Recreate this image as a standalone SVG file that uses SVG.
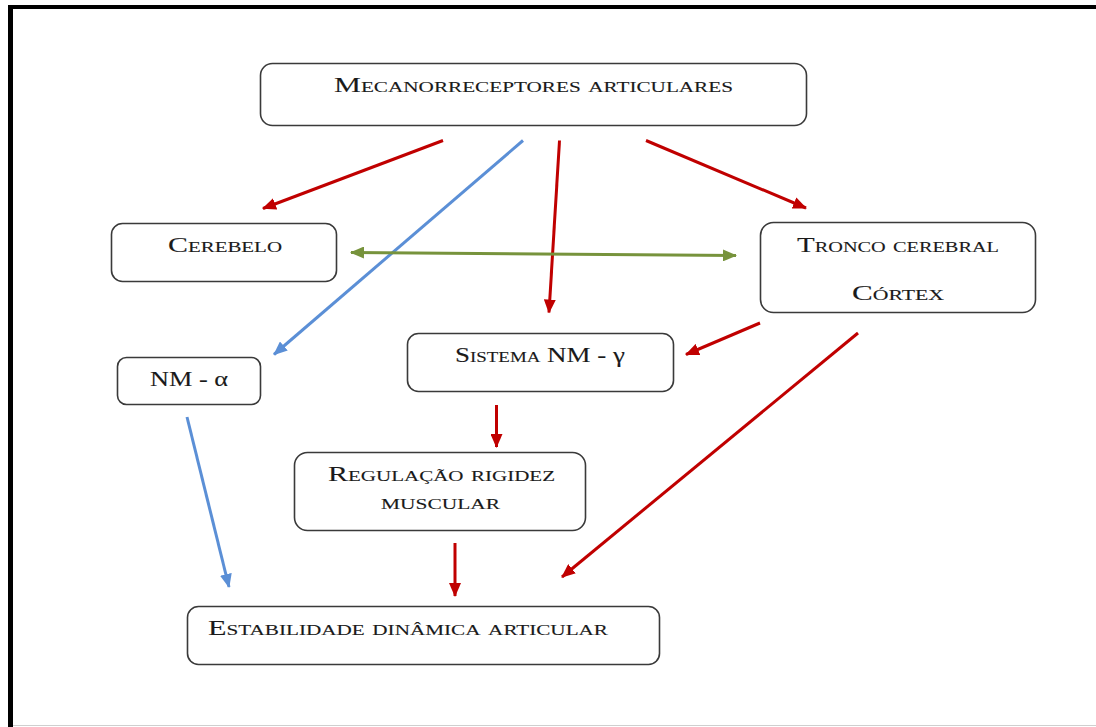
<svg xmlns="http://www.w3.org/2000/svg" width="1096" height="727" viewBox="0 0 1096 727">
<style>
.box{fill:#fff;stroke:#3a3a3a;stroke-width:1.6}
.t{font-family:"Liberation Serif","Times New Roman",serif;font-size:20px;font-variant:small-caps;fill:#1a1a1a;stroke:#1a1a1a;stroke-width:0.1}
.n{font-family:"Liberation Serif","Times New Roman",serif;font-size:20px;fill:#1a1a1a;stroke:#1a1a1a;stroke-width:0.1}
.g{font-variant:normal}
.red{stroke:#C00000;stroke-width:3;fill:none;marker-end:url(#ar)}
.blue{stroke:#5B8FD6;stroke-width:3;fill:none;marker-end:url(#ab)}
.green{stroke:#77933C;stroke-width:3;fill:none;marker-end:url(#ag);marker-start:url(#ag)}
</style>
<defs>
<marker id="ar" viewBox="0 0 14 12" refX="13" refY="6" markerWidth="14" markerHeight="12" markerUnits="userSpaceOnUse" orient="auto-start-reverse"><path d="M0,0 L14,6 L0,12 z" fill="#C00000"/></marker>
<marker id="ab" viewBox="0 0 14 12" refX="13" refY="6" markerWidth="14" markerHeight="12" markerUnits="userSpaceOnUse" orient="auto-start-reverse"><path d="M0,0 L14,6 L0,12 z" fill="#5B8FD6"/></marker>
<marker id="ag" viewBox="0 0 14 12" refX="13" refY="6" markerWidth="14" markerHeight="12" markerUnits="userSpaceOnUse" orient="auto-start-reverse"><path d="M0,0 L14,6 L0,12 z" fill="#77933C"/></marker>
</defs>
<rect x="0" y="0" width="1096" height="727" fill="#fff"/>
<g id="frame">
<rect x="8" y="5" width="1088" height="4" fill="#000"/>
<rect x="8" y="5" width="5" height="722" fill="#000"/>
<line x1="13" y1="725.5" x2="1096" y2="725.5" stroke="#cfcfcf" stroke-width="1"/>
</g>
<g id="connectors">
<line class="red" x1="443" y1="140.5" x2="263" y2="208.5"/>
<line class="blue" x1="523" y1="140.5" x2="274" y2="354.5"/>
<line class="red" x1="559.5" y1="140.5" x2="549" y2="312.5"/>
<line class="red" x1="646" y1="140.5" x2="806" y2="208"/>
<line class="green" x1="351" y1="252.5" x2="736" y2="255.5"/>
<line class="red" x1="760" y1="323" x2="686" y2="354.5"/>
<line class="red" x1="496.5" y1="405" x2="496.5" y2="447"/>
<line class="blue" x1="187" y1="417" x2="229" y2="587"/>
<line class="red" x1="455" y1="543" x2="455" y2="596"/>
<line class="red" x1="858" y1="333" x2="562" y2="577"/>
</g>
<g id="mecanorreceptores">
<rect class="box" x="260.5" y="63.5" width="546" height="62" rx="12"/>
<text class="t" x="334" y="92" textLength="399" lengthAdjust="spacingAndGlyphs">Mecanorreceptores articulares</text>
</g>
<g id="cerebelo">
<rect class="box" x="111.5" y="223.5" width="225" height="58" rx="11"/>
<text class="t" x="168" y="252" textLength="114" lengthAdjust="spacingAndGlyphs">Cerebelo</text>
</g>
<g id="tronco">
<rect class="box" x="760.5" y="222.5" width="275" height="90" rx="13"/>
<text class="t" x="797" y="252" textLength="202" lengthAdjust="spacingAndGlyphs">Tronco cerebral</text>
<text class="t" x="852" y="300" textLength="92" lengthAdjust="spacingAndGlyphs">Córtex</text>
</g>
<g id="nm-alpha">
<rect class="box" x="117.5" y="357.5" width="143" height="47" rx="9"/>
<text class="n" x="150" y="386" textLength="78" lengthAdjust="spacingAndGlyphs">NM - α</text>
</g>
<g id="sistema-nm-gamma">
<rect class="box" x="407.5" y="333.5" width="266" height="58" rx="11"/>
<text class="t" x="455" y="362" textLength="170" lengthAdjust="spacingAndGlyphs">Sistema NM - <tspan class="g">γ</tspan></text>
</g>
<g id="regulacao">
<rect class="box" x="294.5" y="452.5" width="291" height="78" rx="13"/>
<text class="t" x="328" y="481" textLength="227" lengthAdjust="spacingAndGlyphs">Regulação rigidez</text>
<text class="t" x="381" y="509" textLength="119" lengthAdjust="spacingAndGlyphs">muscular</text>
</g>
<g id="estabilidade">
<rect class="box" x="187.5" y="606.5" width="472" height="58" rx="11"/>
<text class="t" x="208" y="635" textLength="400" lengthAdjust="spacingAndGlyphs">Estabilidade dinâmica articular</text>
</g>
</svg>
